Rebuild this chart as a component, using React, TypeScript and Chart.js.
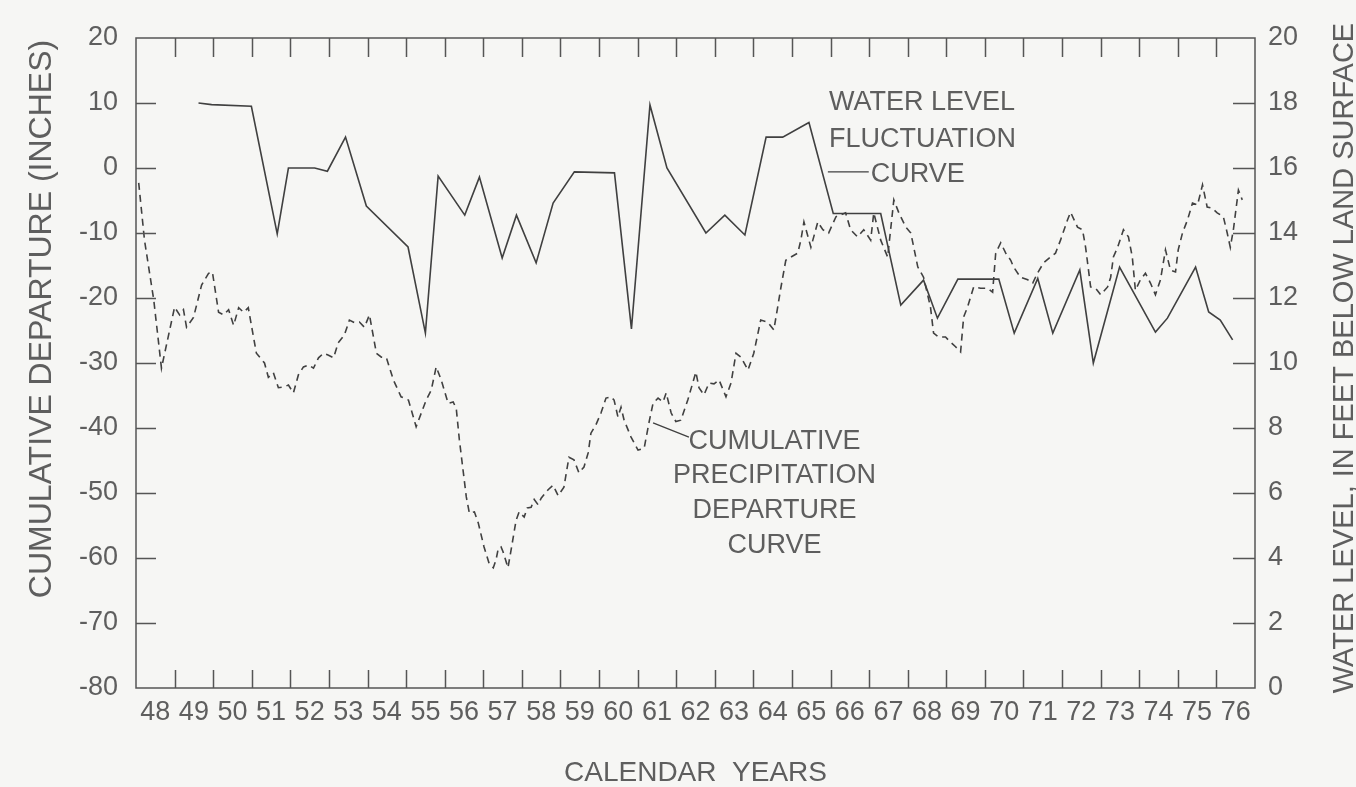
import React, { useEffect, useRef } from "react";
import { Chart, registerables } from "chart.js";

Chart.register(...registerables);

// ---------- DATA ----------
const yearLabels = ["48","49","50","51","52","53","54","55","56","57","58","59","60","61","62","63","64","65","66","67","68","69","70","71","72","73","74","75","76"];
const firstYear = 48;

const leftTickLabels = ["20","10","0","-10","-20","-30","-40","-50","-60","-70","-80"];
const leftTickValues = [20,10,0,-10,-20,-30,-40,-50,-60,-70,-80];
const rightTickLabels = ["20","18","16","14","12","10","8","6","4","2","0"];
const rightTickValues = [20,18,16,14,12,10,8,6,4,2,0];

// Water level fluctuation curve (feet below land surface, right axis)
const waterYears = [49.62,49.96,50.99,51.66,51.95,52.63,52.96,53.43,53.97,55.05,55.5,55.83,56.52,56.9,57.49,57.86,58.37,58.81,59.36,60.4,60.84,61.32,61.76,62.77,63.26,63.78,64.33,64.76,65.44,66.07,67.3,67.82,68.41,68.77,69.3,70.36,70.76,71.37,71.76,72.46,72.81,73.49,74.42,74.73,75.46,75.8,76.1,76.42];
const waterLevels = [18.0,17.95,17.9,13.97,16.0,16.0,15.9,16.95,14.83,13.57,10.92,15.75,14.55,15.72,13.23,14.55,13.08,14.92,15.88,15.85,11.05,17.94,16.0,14.0,14.55,13.94,16.95,16.95,17.4,14.6,14.6,11.78,12.55,11.38,12.58,12.58,10.92,12.6,10.92,12.86,10.0,12.95,10.95,11.38,12.95,11.57,11.32,10.71];

// Cumulative precipitation departure curve (inches, left axis)
const precipYears = [
  48.07,48.22,48.46,48.66,49.0,49.13,49.23,49.31,49.49,49.70,
  49.88,49.98,50.14,50.27,50.40,50.53,50.66,50.79,50.91,51.12,
  51.33,51.43,51.56,51.69,51.82,51.95,52.08,52.21,52.34,52.47,
  52.60,52.73,52.86,52.99,53.12,53.24,53.40,53.53,53.66,53.79,
  53.92,54.05,54.23,54.36,54.49,54.67,54.87,55.06,55.26,55.52,
  55.65,55.78,55.91,56.09,56.22,56.30,56.38,56.56,56.64,56.77,
  56.87,57.02,57.15,57.26,57.33,57.39,57.46,57.51,57.64,57.72,
  57.85,57.93,58.06,58.14,58.24,58.32,58.42,58.50,58.68,58.81,
  58.94,59.09,59.22,59.35,59.48,59.61,59.72,59.79,59.92,60.05,
  60.18,60.31,60.39,60.49,60.57,60.65,60.83,61.01,61.17,61.30,
  61.40,61.53,61.66,61.74,61.87,61.99,62.12,62.30,62.51,62.59,
  62.72,62.85,62.98,63.11,63.29,63.42,63.55,63.68,63.86,64.01,
  64.19,64.37,64.53,64.63,64.71,64.84,64.97,65.15,65.23,65.31,
  65.49,65.67,65.80,65.95,66.14,66.39,66.52,66.70,66.86,67.04,
  67.12,67.30,67.48,67.64,67.77,67.95,68.08,68.26,68.41,68.59,
  68.67,68.80,68.98,69.06,69.24,69.37,69.45,69.55,69.71,69.89,
  70.07,70.20,70.28,70.41,70.54,70.67,70.74,70.92,71.11,71.24,
  71.36,71.52,71.70,71.83,71.96,72.14,72.22,72.40,72.53,72.61,
  72.74,72.87,73.00,73.18,73.26,73.33,73.44,73.59,73.72,73.82,
  73.90,74.03,74.16,74.29,74.42,74.55,74.68,74.81,74.94,75.01,
  75.12,75.25,75.38,75.51,75.64,75.76,75.89,76.02,76.18,76.28,
  76.36,76.44,76.57,76.67
];
const precipDepartures = [
  -2.3,-11.1,-20.3,-30.8,-21.4,-22.6,-21.8,-24.5,-23,-18,
  -16.2,-16,-22.2,-22.6,-21.8,-24.2,-21.5,-22.2,-21.5,-28.5,
  -30,-32.2,-31.5,-33.8,-33.7,-33.4,-34.6,-31.8,-30.6,-30.3,
  -30.8,-29.2,-28.5,-28.8,-29.2,-26.9,-25.7,-23.4,-23.8,-23.7,
  -24.5,-22.6,-28.5,-29.1,-29.2,-32.6,-35.2,-35.7,-39.8,-35.7,
  -34.2,-30.6,-32.6,-36.2,-36,-37,-41.8,-50.6,-53.1,-52.9,
  -54.6,-58.3,-60.8,-61.5,-60.3,-58.5,-58.3,-59,-61.5,-58.8,
  -54.2,-52.9,-53.7,-52.3,-52.2,-51,-51.8,-50.8,-49.5,-48.8,
  -50.4,-49.1,-44.5,-44.9,-46.9,-46,-43.8,-40.8,-39.5,-37.7,
  -35.4,-35.2,-35.7,-38.3,-36.8,-38.8,-41.4,-43.4,-43.1,-39,
  -36.2,-35.4,-36,-34.6,-37.7,-39,-38.8,-35.7,-31.4,-33.8,
  -34.9,-33.1,-33.2,-32.6,-35.2,-33.1,-28.5,-29.1,-31.1,-28.5,
  -23.4,-23.7,-24.9,-21.4,-18.5,-14.2,-13.7,-13.1,-11.1,-8.3,
  -12.2,-8.3,-9.5,-10,-7.5,-6.9,-9.5,-10.6,-9.5,-11.1,
  -6.9,-11.1,-13.7,-4.9,-6.9,-9.1,-10,-15.2,-16.8,-21.4,
  -25.4,-26,-26,-26.5,-27.5,-28.3,-22.9,-21.4,-18.3,-18.5,
  -18.5,-19.1,-13.1,-11.5,-13.1,-14.2,-15.2,-16.8,-17.2,-17.7,
  -16.2,-14.6,-13.7,-13.1,-11.1,-8,-6.8,-9.1,-9.5,-12.2,
  -18.3,-18.5,-19.5,-18.3,-16.8,-13.7,-12.2,-9.5,-10.6,-13.7,
  -18.8,-17.2,-16.2,-17.7,-19.5,-17.2,-12.6,-15.7,-16,-12.6,
  -10,-8,-5.4,-5.7,-2.6,-6,-6.2,-6.9,-7.5,-10,
  -12.2,-9.5,-3.4,-4.9
];

// Curve labels (anchored in data space: year, left-axis inches)
const waterLabelLines = ["WATER LEVEL", "FLUCTUATION", "CURVE"];
const waterLabelYears = [65.96, 65.96, 67.04];
const waterLabelValues = [10.46, 4.77, -0.6];
const waterLeader = [[65.93, -0.6], [66.99, -0.6]];

const precipLabelLines = ["CUMULATIVE", "PRECIPITATION", "DEPARTURE", "CURVE"];
const precipLabelYear = 64.55;
const precipLabelValues = [-41.7, -46.9, -52.3, -57.7];
const precipLeader = [[61.40, -39.2], [62.33, -41.4]];

const xTitle = "CALENDAR  YEARS";
const leftTitle = "CUMULATIVE DEPARTURE (INCHES)";
const rightTitle = "WATER LEVEL, IN FEET BELOW LAND SURFACE";

// ---------- STYLE ----------
const FONT = "'Liberation Sans', Arial, Helvetica, sans-serif";
const TEXT = "#5e5e5e";
const AXIS = "#555555";
const LINE = "#404040";

const decorPlugin = {
  id: "decor",
  afterDraw(chart: any) {
    const { ctx, chartArea: a, scales } = chart;
    const sx = scales.x, sy = scales.y, sy1 = scales.y1;
    ctx.save();
    // frame
    ctx.strokeStyle = AXIS;
    ctx.lineWidth = 1.5;
    ctx.strokeRect(a.left, a.top, a.right - a.left, a.bottom - a.top);
    // inward tick marks
    ctx.beginPath();
    for (let i = 1; i < yearLabels.length; i++) {
      const px = Math.round(sx.getPixelForValue(firstYear + i)) + 0.5;
      ctx.moveTo(px, a.top); ctx.lineTo(px, a.top + 19);
      ctx.moveTo(px, a.bottom); ctx.lineTo(px, a.bottom - 18);
    }
    for (let i = 1; i < leftTickValues.length - 1; i++) {
      const py = Math.round(sy.getPixelForValue(leftTickValues[i])) + 0.5;
      ctx.moveTo(a.left, py); ctx.lineTo(a.left + 20, py);
    }
    for (let i = 1; i < rightTickValues.length - 1; i++) {
      const py = Math.round(sy1.getPixelForValue(rightTickValues[i])) + 0.5;
      ctx.moveTo(a.right, py); ctx.lineTo(a.right - 22, py);
    }
    ctx.stroke();

    // leader lines
    ctx.strokeStyle = LINE;
    ctx.lineWidth = 1.3;
    ctx.beginPath();
    ctx.moveTo(sx.getPixelForValue(waterLeader[0][0]), sy.getPixelForValue(waterLeader[0][1]));
    ctx.lineTo(sx.getPixelForValue(waterLeader[1][0]), sy.getPixelForValue(waterLeader[1][1]));
    ctx.moveTo(sx.getPixelForValue(precipLeader[0][0]), sy.getPixelForValue(precipLeader[0][1]));
    ctx.lineTo(sx.getPixelForValue(precipLeader[1][0]), sy.getPixelForValue(precipLeader[1][1]));
    ctx.stroke();

    // curve labels
    const size = 27;
    ctx.fillStyle = TEXT;
    ctx.font = `${size}px ${FONT}`;
    ctx.textBaseline = "alphabetic";
    ctx.textAlign = "left";
    waterLabelLines.forEach((t, i) => {
      ctx.fillText(t, sx.getPixelForValue(waterLabelYears[i]), sy.getPixelForValue(waterLabelValues[i]) + 0.358 * size);
    });
    ctx.textAlign = "center";
    precipLabelLines.forEach((t, i) => {
      ctx.fillText(t, sx.getPixelForValue(precipLabelYear), sy.getPixelForValue(precipLabelValues[i]) + 0.358 * size);
    });

    // axis titles
    const xs = 28;
    ctx.font = `${xs}px ${FONT}`;
    ctx.textAlign = "center";
    ctx.fillText(xTitle, (a.left + a.right) / 2, 771 + 0.358 * xs);

    const ls = 32;
    ctx.save();
    ctx.translate(40, 319);
    ctx.rotate(-Math.PI / 2);
    ctx.font = `${ls}px ${FONT}`;
    ctx.fillText(leftTitle, 0, 0.358 * ls);
    ctx.restore();

    const rs = 29;
    ctx.save();
    ctx.translate(1343, 358);
    ctx.rotate(-Math.PI / 2);
    ctx.font = `${rs}px ${FONT}`;
    ctx.fillText(rightTitle, 0, 0.358 * rs);
    ctx.restore();

    ctx.restore();
  },
};

export default function App() {
  const canvasRef = useRef<HTMLCanvasElement | null>(null);

  useEffect(() => {
    if (!canvasRef.current) return;
    Chart.defaults.font.family = FONT;
    const chart = new Chart(canvasRef.current, {
      type: "line",
      data: {
        datasets: [
          {
            label: "Water level fluctuation curve",
            data: waterYears.map((x, i) => ({ x, y: waterLevels[i] })),
            yAxisID: "y1",
            borderColor: LINE,
            borderWidth: 1.6,
            pointRadius: 0,
            tension: 0,
            fill: false,
          },
          {
            label: "Cumulative precipitation departure curve",
            data: precipYears.map((x, i) => ({ x, y: precipDepartures[i] })),
            yAxisID: "y",
            borderColor: LINE,
            borderWidth: 1.6,
            borderDash: [7, 5],
            pointRadius: 0,
            tension: 0,
            fill: false,
          },
        ],
      },
      plugins: [decorPlugin],
      options: {
        animation: false,
        responsive: true,
        maintainAspectRatio: false,
        layout: { padding: { top: 38, left: 0, right: 0, bottom: 0 } },
        plugins: { legend: { display: false }, tooltip: { enabled: false } },
        scales: {
          x: {
            type: "linear",
            position: "bottom",
            min: firstYear,
            max: firstYear + yearLabels.length,
            afterBuildTicks: (scale: any) => {
              scale.ticks = yearLabels.map((_, i) => ({ value: firstYear + i + 0.5 }));
            },
            afterFit: (scale: any) => { scale.height = 99; },
            grid: { display: false, drawTicks: false },
            border: { display: false },
            ticks: {
              autoSkip: false,
              maxRotation: 0,
              minRotation: 0,
              padding: 8,
              color: TEXT,
              font: { size: 27, family: FONT },
              callback: (_v: any, i: number) => yearLabels[i],
            },
          },
          y: {
            type: "linear",
            position: "left",
            min: -80,
            max: 20,
            afterBuildTicks: (scale: any) => {
              scale.ticks = leftTickValues.map((v) => ({ value: v }));
            },
            afterFit: (scale: any) => { scale.width = 136; },
            grid: { display: false, drawTicks: false },
            border: { display: false },
            ticks: {
              padding: 18,
              color: TEXT,
              font: { size: 27, family: FONT },
              callback: (_v: any, i: number) => leftTickLabels[i],
            },
          },
          y1: {
            type: "linear",
            position: "right",
            min: 0,
            max: 20,
            afterBuildTicks: (scale: any) => {
              scale.ticks = rightTickValues.map((v) => ({ value: v }));
            },
            afterFit: (scale: any) => { scale.width = 101; },
            grid: { display: false, drawTicks: false },
            border: { display: false },
            ticks: {
              padding: 13,
              color: TEXT,
              font: { size: 27, family: FONT },
              callback: (_v: any, i: number) => rightTickLabels[i],
            },
          },
        },
      },
    } as any);
    return () => chart.destroy();
  }, []);

  return (
    <div
      style={{
        position: "fixed",
        left: 0,
        top: 0,
        width: "1356px",
        height: "787px",
        background: "#f6f6f4",
      }}
    >
      <canvas ref={canvasRef} />
    </div>
  );
}
